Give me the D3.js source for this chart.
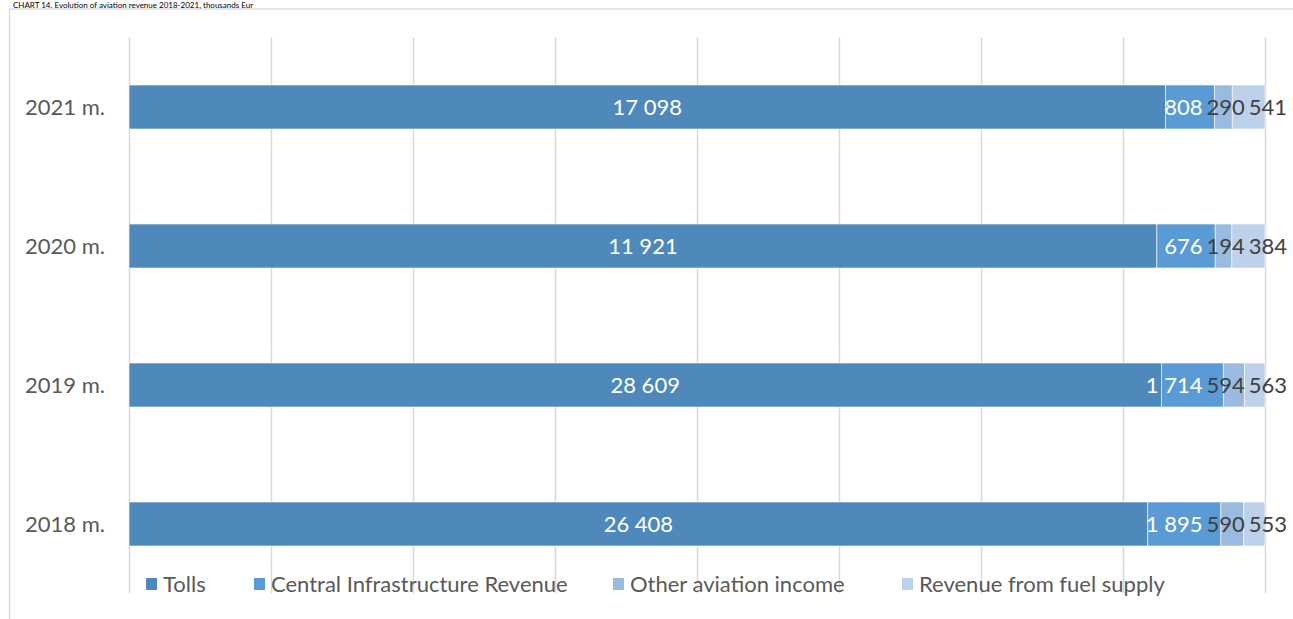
<!DOCTYPE html>
<html>
<head>
<meta charset="utf-8">
<script src="https://cdn.jsdelivr.net/npm/d3@7"></script>
<style>
  html, body { margin: 0; padding: 0; background: #fff; overflow: hidden; }
  svg { display: block; font-family: Lato, "Open Sans", sans-serif; }
</style>
</head>
<body>
<svg id="chart" width="1293" height="619"></svg>
<script>
// Aviation revenue by year, thousands EUR
const years = ["2021 m.", "2020 m.", "2019 m.", "2018 m."];
const seriesNames = ["Tolls", "Central Infrastructure Revenue", "Other aviation income", "Revenue from fuel supply"];
const tolls = [17098, 11921, 28609, 26408];
const centralInfra = [808, 676, 1714, 1895];
const otherAviation = [290, 194, 594, 590];
const fuelSupply = [541, 384, 563, 553];
const gridTicks = [0, 0.125, 0.25, 0.375, 0.5, 0.625, 0.75, 0.875, 1];

const colors = ["#4f88bb", "#5b9bd5", "#9bbadf", "#bdd1ea"];
const labelColors = ["#ffffff", "#ffffff", "#404040", "#404040"];
const titleText = "CHART 14. Evolution of aviation revenue 2018-2021, thousands Eur";

const keys = ["tolls", "central", "other", "fuel"];
const rows = years.map((y, i) => ({
  year: y,
  tolls: tolls[i],
  central: centralInfra[i],
  other: otherAviation[i],
  fuel: fuelSupply[i]
}));

const svg = d3.select("#chart");
const W = 1293, H = 619;
const plot = { left: 129, right: 1265, top: 37.5, bottom: 593.5 };

const fmt = d3.formatLocale({ decimal: ",", thousands: " ", grouping: [3], currency: ["", " €"] }).format(",");

// chart frame and title
svg.append("rect")
  .attr("x", 9.5).attr("y", 9)
  .attr("width", W + 20).attr("height", H + 20)
  .attr("fill", "none").attr("stroke", "#d9d9d9").attr("stroke-width", 1.3);

svg.append("text")
  .attr("x", 13).attr("y", 8)
  .attr("font-size", 8).attr("fill", "#000")
  .text(titleText);

const x = d3.scaleLinear().domain([0, 1]).range([plot.left, plot.right]);
const y = d3.scaleBand().domain(years)
  .range([plot.top, plot.bottom])
  .paddingInner(0.6835).paddingOuter(0.6835 / 2);

// vertical gridlines
const grid = svg.append("g")
  .attr("transform", `translate(0,${plot.bottom})`)
  .call(d3.axisBottom(x).tickValues(gridTicks).tickSize(-(plot.bottom - plot.top)).tickFormat(""));
grid.select(".domain").remove();
grid.selectAll(".tick line").attr("stroke", "#d9d9d9").attr("stroke-width", 1.5);

// category labels
svg.append("g").selectAll("text")
  .data(years).join("text")
  .attr("x", 105)
  .attr("y", d => y(d) + y.bandwidth() / 2)
  .attr("dy", "0.36em")
  .attr("text-anchor", "end")
  .attr("font-size", 22)
  .attr("fill", "#595959")
  .text(d => d);

// 100% stacked bars
const stacked = d3.stack().keys(keys).offset(d3.stackOffsetExpand)(rows);

const layers = svg.append("g").selectAll("g")
  .data(stacked).join("g")
  .attr("fill", (d, i) => colors[i]);

layers.selectAll("rect")
  .data(d => d).join("rect")
  .attr("x", d => x(d[0]))
  .attr("y", d => y(d.data.year))
  .attr("width", d => x(d[1]) - x(d[0]))
  .attr("height", y.bandwidth())
  .attr("stroke", "#ffffff")
  .attr("stroke-width", 0.6);

// value labels, one per segment
const labelGroup = svg.append("g");
const labels = [];
stacked.forEach((layer, si) => {
  layer.forEach(d => {
    const t = labelGroup.append("text")
      .attr("y", y(d.data.year) + y.bandwidth() / 2)
      .attr("dy", "0.36em")
      .attr("text-anchor", "middle")
      .attr("font-size", 22)
      .attr("fill", labelColors[si])
      .text(fmt(d.data[layer.key]));
    labels.push({ node: t, year: d.data.year, si, cx: (x(d[0]) + x(d[1])) / 2, w: t.node().getComputedTextLength() });
  });
});

// keep labels in narrow segments from overlapping each other
const gap = 4, rightLimit = W - 6;
years.forEach(yr => {
  const row = labels.filter(l => l.year === yr).sort((a, b) => a.si - b.si);
  row.forEach((l, i) => {
    l.left = l.cx - l.w / 2;
    if (i > 0) l.left = Math.max(l.left, row[i - 1].left + row[i - 1].w + gap);
  });
  for (let i = row.length - 1; i >= 0; i--) {
    const limit = i === row.length - 1 ? rightLimit : row[i + 1].left - gap;
    if (row[i].left + row[i].w > limit) row[i].left = limit - row[i].w;
  }
  row.forEach(l => l.node.attr("x", l.left + l.w / 2));
});

// legend
const legendX = [146, 254, 613, 902];
const legend = svg.append("g");
seriesNames.forEach((name, i) => {
  const g = legend.append("g").attr("transform", `translate(${legendX[i]},0)`);
  g.append("rect").attr("x", 0).attr("y", 578).attr("width", 11).attr("height", 12).attr("fill", colors[i]);
  g.append("text").attr("x", 17).attr("y", 584).attr("dy", "0.36em")
    .attr("font-size", 22).attr("fill", "#595959").text(name);
});
</script>
</body>
</html>
